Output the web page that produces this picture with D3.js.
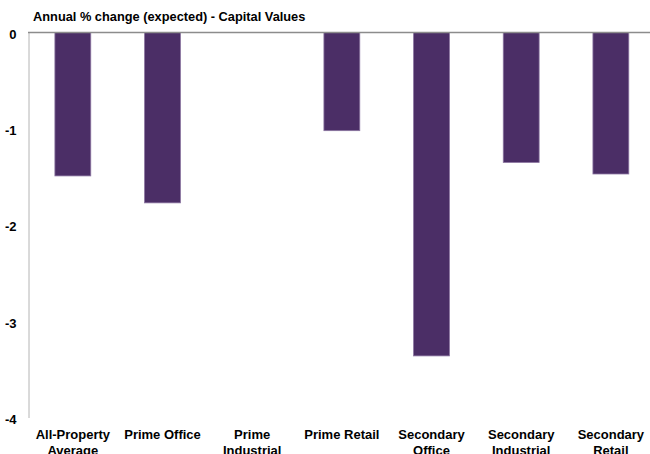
<!DOCTYPE html>
<html>
<head>
<meta charset="utf-8">
<script src="https://cdn.jsdelivr.net/npm/d3@7"></script>
<style>
  html, body { margin: 0; padding: 0; background: #fff; }
  svg { display: block; }
  text { font-family: "Liberation Sans", Arial, sans-serif; font-weight: bold; fill: #000; }
</style>
</head>
<body>
<script>
const title = "Annual % change (expected) - Capital Values";
const categories = ["All-Property Average", "Prime Office", "Prime Industrial", "Prime Retail", "Secondary Office", "Secondary Industrial", "Secondary Retail"];
const categoryLines = [["All-Property", "Average"], ["Prime Office"], ["Prime", "Industrial"], ["Prime Retail"], ["Secondary", "Office"], ["Secondary", "Industrial"], ["Secondary", "Retail"]];
const values = [-1.49, -1.77, 0, -1.02, -3.36, -1.35, -1.47];
const yTicks = [0, -1, -2, -3, -4];
const yTickLabels = ["0", "-1", "-2", "-3", "-4"];

const W = 650, H = 454;
const svg = d3.select("body").append("svg").attr("width", W).attr("height", H);

const x = d3.scaleBand().domain(categories).range([28, 655.7]).paddingInner(0.6).paddingOuter(0.3);
const y = d3.scaleLinear().domain([-4, 0]).range([417.5, 32.5]);

// title
svg.append("text").attr("x", 33).attr("y", 21).attr("font-size", "12.8px").text(title);

// bars
svg.append("g").selectAll("rect").data(values.map((v, i) => ({c: categories[i], v})))
  .join("rect")
  .attr("x", d => x(d.c))
  .attr("y", d => y(0))
  .attr("width", x.bandwidth())
  .attr("height", d => y(d.v) - y(0))
  .attr("fill", "#4b2e66")
  .attr("stroke", "#8a74a0")
  .attr("stroke-width", 0.8);

// y axis
const yAxis = svg.append("g").attr("transform", "translate(28.5,0)")
  .call(d3.axisLeft(y).tickValues(yTicks).tickSize(0).tickPadding(12)
    .tickFormat((d, i) => yTickLabels[i]));
yAxis.select(".domain").attr("stroke", "#b4b4b4").attr("stroke-width", 1);
yAxis.selectAll("text").attr("font-size", "13px").attr("font-family", "Liberation Sans, Arial, sans-serif").attr("font-weight", "bold").attr("dy", "0.45em");

// zero line
svg.append("line").attr("x1", 28).attr("x2", W).attr("y1", y(0)).attr("y2", y(0))
  .attr("stroke", "#8c8c8c").attr("stroke-width", 1.5);

// x axis labels
const xAxis = svg.append("g").attr("transform", "translate(0,417.5)")
  .call(d3.axisBottom(x).tickSize(0).tickFormat(""));
xAxis.select(".domain").remove();
xAxis.selectAll(".tick").each(function(d, i) {
  const t = d3.select(this).select("text")
    .attr("font-size", "13px").attr("font-family", "Liberation Sans, Arial, sans-serif")
    .attr("font-weight", "bold").attr("text-anchor", "middle").attr("y", 0).attr("dy", null);
  t.text(null);
  categoryLines[i].forEach((line, j) => {
    t.append("tspan").attr("x", 0).attr("y", 21 + j * 16).text(line);
  });
});
</script>
</body>
</html>
